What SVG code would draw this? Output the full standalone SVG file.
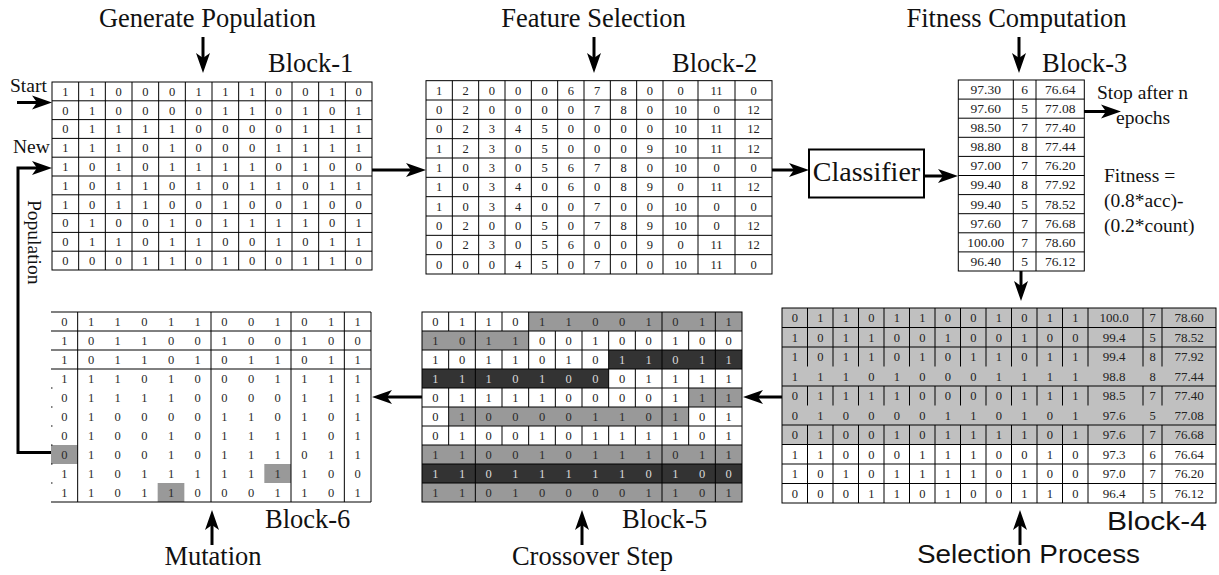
<svg xmlns="http://www.w3.org/2000/svg" width="1219" height="575" viewBox="0 0 1219 575">
  <defs>
    <marker id="ah" viewBox="-9 -8 22 16" refX="0" refY="0" markerWidth="22" markerHeight="16" orient="auto" markerUnits="userSpaceOnUse">
      <path d="M12,0 L-8,-7 L-3,0 L-8,7 Z" fill="#000"/>
    </marker>
  </defs>
  <style>
    .grid { fill: none; stroke: #000; stroke-width: 1; }
    .t { font-family: "Liberation Serif", serif; font-size: 12.5px; text-anchor: middle; fill: #222; }
    .s { font-size: 13.5px; }
    .n { font-size: 13px; }
    .tg { fill: #2a2a2a; }
    .td { fill: #d8d8d8; }
    .lbl { font-family: "Liberation Serif", serif; font-size: 26.5px; fill: #111; }
    .sans { font-family: "Liberation Sans", sans-serif; }
    .note { font-family: "Liberation Serif", serif; font-size: 19.5px; fill: #111; }
    .arr { fill: none; stroke: #000; stroke-width: 3; marker-end: url(#ah); }
    .lite { fill: #999; }
    .dark { fill: #333; }
    .pale { fill: #c0c0c0; }
  </style>

  <!-- step captions -->
  <g id="captions">
    <text class="lbl" x="207.5" y="27" text-anchor="middle">Generate Population</text>
    <text class="lbl" x="593.5" y="27" text-anchor="middle">Feature Selection</text>
    <text class="lbl" x="1016.5" y="27" text-anchor="middle">Fitness Computation</text>
    <text class="lbl" x="213" y="565" text-anchor="middle">Mutation</text>
    <text class="lbl" x="592.5" y="565" text-anchor="middle">Crossover Step</text>
    <text class="lbl sans" x="917" y="563" textLength="223" lengthAdjust="spacingAndGlyphs">Selection Process</text>
    <text class="note" x="10" y="91.5">Start</text>
    <text class="note" x="13" y="153">New</text>
    <text class="note" transform="translate(28,200) rotate(90)">Population</text>
    <text class="note" x="1097" y="99">Stop after n</text>
    <text class="note" x="1116" y="124">epochs</text>
    <text class="note" x="1104" y="181.5">Fitness =</text>
    <text class="note" x="1104" y="206.5">(0.8*acc)-</text>
    <text class="note" x="1104" y="231.5">(0.2*count)</text>
  </g>

  <!-- Block-1: initial binary population -->
  <g id="block1">
    <text class="lbl" x="268" y="72">Block-1</text>
    <rect class="grid" x="52" y="82" width="320" height="188"/>
    <path class="grid" d="M52,100.8H372M52,119.6H372M52,138.4H372M52,157.2H372M52,176H372M52,194.8H372M52,213.6H372M52,232.4H372M52,251.2H372
      M78.67,82V270M105.33,82V270M132,82V270M158.67,82V270M185.33,82V270M212,82V270M238.67,82V270M265.33,82V270M292,82V270M318.67,82V270M345.33,82V270"/>
    <g class="t">
      <text x="65.33 92 118.67 145.33 172 198.67 225.33 252 278.67 305.33 332 358.67" y="95.7">110001110010</text>
      <text x="65.33 92 118.67 145.33 172 198.67 225.33 252 278.67 305.33 332 358.67" y="114.5">010000110101</text>
      <text x="65.33 92 118.67 145.33 172 198.67 225.33 252 278.67 305.33 332 358.67" y="133.3">011110000111</text>
      <text x="65.33 92 118.67 145.33 172 198.67 225.33 252 278.67 305.33 332 358.67" y="152.1">111010001111</text>
      <text x="65.33 92 118.67 145.33 172 198.67 225.33 252 278.67 305.33 332 358.67" y="170.9">101011110100</text>
      <text x="65.33 92 118.67 145.33 172 198.67 225.33 252 278.67 305.33 332 358.67" y="189.7">101101011011</text>
      <text x="65.33 92 118.67 145.33 172 198.67 225.33 252 278.67 305.33 332 358.67" y="208.5">101100100100</text>
      <text x="65.33 92 118.67 145.33 172 198.67 225.33 252 278.67 305.33 332 358.67" y="227.3">010010111101</text>
      <text x="65.33 92 118.67 145.33 172 198.67 225.33 252 278.67 305.33 332 358.67" y="246.1">011011001011</text>
      <text x="65.33 92 118.67 145.33 172 198.67 225.33 252 278.67 305.33 332 358.67" y="264.9">000110100110</text>
    </g>
  </g>

  <!-- Block-2: selected feature indices -->
  <g id="block2">
    <text class="lbl" x="672" y="72">Block-2</text>
    <rect class="grid" x="426" y="80.67" width="346" height="193.33"/>
    <path class="grid" d="M426,100H772M426,119.33H772M426,138.67H772M426,158H772M426,177.33H772M426,196.67H772M426,216H772M426,235.33H772M426,254.67H772
      M452.33,80.67V274M478.67,80.67V274M505,80.67V274M531.33,80.67V274M557.67,80.67V274M584,80.67V274M610.33,80.67V274M636.67,80.67V274M663,80.67V274M698,80.67V274M735,80.67V274"/>
    <g class="t">
      <text x="439.17 465.5 491.83 518.17 544.5 570.83 597.17 623.5 649.83" y="94.6">120006780<tspan x="680.5">0</tspan><tspan x="716.5">11</tspan><tspan x="753.5">0</tspan></text>
      <text x="439.17 465.5 491.83 518.17 544.5 570.83 597.17 623.5 649.83" y="113.97">020000780<tspan x="680.5">10</tspan><tspan x="716.5">0</tspan><tspan x="753.5">12</tspan></text>
      <text x="439.17 465.5 491.83 518.17 544.5 570.83 597.17 623.5 649.83" y="133.3">023450000<tspan x="680.5">10</tspan><tspan x="716.5">11</tspan><tspan x="753.5">12</tspan></text>
      <text x="439.17 465.5 491.83 518.17 544.5 570.83 597.17 623.5 649.83" y="152.6">123050009<tspan x="680.5">10</tspan><tspan x="716.5">11</tspan><tspan x="753.5">12</tspan></text>
      <text x="439.17 465.5 491.83 518.17 544.5 570.83 597.17 623.5 649.83" y="171.97">103056780<tspan x="680.5">10</tspan><tspan x="716.5">0</tspan><tspan x="753.5">0</tspan></text>
      <text x="439.17 465.5 491.83 518.17 544.5 570.83 597.17 623.5 649.83" y="191.3">103406089<tspan x="680.5">0</tspan><tspan x="716.5">11</tspan><tspan x="753.5">12</tspan></text>
      <text x="439.17 465.5 491.83 518.17 544.5 570.83 597.17 623.5 649.83" y="210.6">103400700<tspan x="680.5">10</tspan><tspan x="716.5">0</tspan><tspan x="753.5">0</tspan></text>
      <text x="439.17 465.5 491.83 518.17 544.5 570.83 597.17 623.5 649.83" y="229.97">020050789<tspan x="680.5">10</tspan><tspan x="716.5">0</tspan><tspan x="753.5">12</tspan></text>
      <text x="439.17 465.5 491.83 518.17 544.5 570.83 597.17 623.5 649.83" y="249.3">023056009<tspan x="680.5">0</tspan><tspan x="716.5">11</tspan><tspan x="753.5">12</tspan></text>
      <text x="439.17 465.5 491.83 518.17 544.5 570.83 597.17 623.5 649.83" y="268.6">000450700<tspan x="680.5">10</tspan><tspan x="716.5">11</tspan><tspan x="753.5">0</tspan></text>
    </g>
  </g>

  <!-- classifier -->
  <g id="classifier">
    <rect x="809" y="149.5" width="115" height="48" fill="#fff" stroke="#000" stroke-width="2"/>
    <text x="866.5" y="181" text-anchor="middle" font-family="Liberation Serif, serif" font-size="28" fill="#111">Classifier</text>
  </g>

  <!-- Block-3: accuracy, feature count, fitness -->
  <g id="block3">
    <text class="lbl" x="1042" y="72">Block-3</text>
    <rect class="grid" x="958.3" y="80" width="126" height="191"/>
    <path class="grid" d="M958.3,99.1H1084.3M958.3,118.2H1084.3M958.3,137.3H1084.3M958.3,156.4H1084.3M958.3,175.5H1084.3M958.3,194.6H1084.3M958.3,213.7H1084.3M958.3,232.8H1084.3M958.3,251.9H1084.3
      M1013.3,80V271M1036,80V271"/>
    <g class="t s">
      <text y="93.9"><tspan x="985.8">97.30</tspan><tspan x="1024.7">6</tspan><tspan x="1060.2">76.64</tspan></text>
      <text y="113"><tspan x="985.8">97.60</tspan><tspan x="1024.7">5</tspan><tspan x="1060.2">77.08</tspan></text>
      <text y="132.1"><tspan x="985.8">98.50</tspan><tspan x="1024.7">7</tspan><tspan x="1060.2">77.40</tspan></text>
      <text y="151.2"><tspan x="985.8">98.80</tspan><tspan x="1024.7">8</tspan><tspan x="1060.2">77.44</tspan></text>
      <text y="170.3"><tspan x="985.8">97.00</tspan><tspan x="1024.7">7</tspan><tspan x="1060.2">76.20</tspan></text>
      <text y="189.4"><tspan x="985.8">99.40</tspan><tspan x="1024.7">8</tspan><tspan x="1060.2">77.92</tspan></text>
      <text y="208.5"><tspan x="985.8">99.40</tspan><tspan x="1024.7">5</tspan><tspan x="1060.2">78.52</tspan></text>
      <text y="227.6"><tspan x="985.8">97.60</tspan><tspan x="1024.7">7</tspan><tspan x="1060.2">76.68</tspan></text>
      <text y="246.7"><tspan x="985.8">100.00</tspan><tspan x="1024.7">7</tspan><tspan x="1060.2">78.60</tspan></text>
      <text y="265.8"><tspan x="985.8">96.40</tspan><tspan x="1024.7">5</tspan><tspan x="1060.2">76.12</tspan></text>
    </g>
  </g>

  <!-- Block-4: population ranked by fitness, top rows kept -->
  <g id="block4">
    <rect class="pale" x="782" y="308" width="434" height="136.5"/>
    <rect class="grid" x="782" y="308" width="434" height="195"/>
    <path class="grid" d="M782,327.5H1216M782,347H1216M782,386H1216M782,425H1216M782,444.5H1216M782,464H1216M782,483.5H1216
      M807.5,308V366.5M833,308V366.5M858.5,308V366.5M884,308V366.5M909.5,308V366.5M935,308V366.5M960.5,308V366.5M986,308V366.5M1011.5,308V366.5M1037,308V366.5M1062.5,308V366.5M1088,308V366.5M1143,308V366.5M1162,308V366.5
      M807.5,386V405.5M833,386V405.5M858.5,386V405.5M884,386V405.5M909.5,386V405.5M935,386V405.5M960.5,386V405.5M986,386V405.5M1011.5,386V405.5M1037,386V405.5M1062.5,386V405.5M1088,386V405.5M1143,386V405.5M1162,386V405.5
      M807.5,425V503M833,425V503M858.5,425V503M884,425V503M909.5,425V503M935,425V503M960.5,425V503M986,425V503M1011.5,425V503M1037,425V503M1062.5,425V503M1088,425V503M1143,425V503M1162,425V503"/>
    <g class="t">
      <text x="794.75 820.25 845.75 871.25 896.75 922.25 947.75 973.25 998.75 1024.25 1049.75 1075.25" y="322">011011001011<tspan class="n" x="1114">100.0</tspan><tspan x="1152.5">7</tspan><tspan class="n" x="1189">78.60</tspan></text>
      <text x="794.75 820.25 845.75 871.25 896.75 922.25 947.75 973.25 998.75 1024.25 1049.75 1075.25" y="341.5">101100100100<tspan class="n" x="1114">99.4</tspan><tspan x="1152.5">5</tspan><tspan class="n" x="1189">78.52</tspan></text>
      <text x="794.75 820.25 845.75 871.25 896.75 922.25 947.75 973.25 998.75 1024.25 1049.75 1075.25" y="361">101101011011<tspan class="n" x="1114">99.4</tspan><tspan x="1152.5">8</tspan><tspan class="n" x="1189">77.92</tspan></text>
      <text x="794.75 820.25 845.75 871.25 896.75 922.25 947.75 973.25 998.75 1024.25 1049.75 1075.25" y="380.5">111010001111<tspan class="n" x="1114">98.8</tspan><tspan x="1152.5">8</tspan><tspan class="n" x="1189">77.44</tspan></text>
      <text x="794.75 820.25 845.75 871.25 896.75 922.25 947.75 973.25 998.75 1024.25 1049.75 1075.25" y="400">011110000111<tspan class="n" x="1114">98.5</tspan><tspan x="1152.5">7</tspan><tspan class="n" x="1189">77.40</tspan></text>
      <text x="794.75 820.25 845.75 871.25 896.75 922.25 947.75 973.25 998.75 1024.25 1049.75 1075.25" y="419.5">010000110101<tspan class="n" x="1114">97.6</tspan><tspan x="1152.5">5</tspan><tspan class="n" x="1189">77.08</tspan></text>
      <text x="794.75 820.25 845.75 871.25 896.75 922.25 947.75 973.25 998.75 1024.25 1049.75 1075.25" y="439">010010111101<tspan class="n" x="1114">97.6</tspan><tspan x="1152.5">7</tspan><tspan class="n" x="1189">76.68</tspan></text>
      <text x="794.75 820.25 845.75 871.25 896.75 922.25 947.75 973.25 998.75 1024.25 1049.75 1075.25" y="458.5">110001110010<tspan class="n" x="1114">97.3</tspan><tspan x="1152.5">6</tspan><tspan class="n" x="1189">76.64</tspan></text>
      <text x="794.75 820.25 845.75 871.25 896.75 922.25 947.75 973.25 998.75 1024.25 1049.75 1075.25" y="478">101011110100<tspan class="n" x="1114">97.0</tspan><tspan x="1152.5">7</tspan><tspan class="n" x="1189">76.20</tspan></text>
      <text x="794.75 820.25 845.75 871.25 896.75 922.25 947.75 973.25 998.75 1024.25 1049.75 1075.25" y="497.5">000110100110<tspan class="n" x="1114">96.4</tspan><tspan x="1152.5">5</tspan><tspan class="n" x="1189">76.12</tspan></text>
    </g>
    <text class="lbl sans" x="1107" y="530" textLength="100" lengthAdjust="spacingAndGlyphs">Block-4</text>
  </g>

  <!-- Block-5: crossover of parent pairs -->
  <g id="block5">
    <rect class="lite" x="528.67" y="312" width="213.33" height="19"/>
    <rect class="lite" x="422" y="331" width="106.67" height="19"/>
    <rect class="dark" x="608.67" y="350" width="133.33" height="19"/>
    <rect class="dark" x="422" y="369" width="186.67" height="19"/>
    <rect class="lite" x="688.67" y="388" width="53.33" height="19"/>
    <rect class="lite" x="448.67" y="407" width="240" height="19"/>
    <rect class="lite" x="422" y="445" width="320" height="19"/>
    <rect class="dark" x="422" y="464" width="320" height="19"/>
    <rect class="lite" x="422" y="483" width="320" height="19"/>
    <rect class="grid" x="422" y="312" width="320" height="190"/>
    <path class="grid" d="M422,331H742M422,350H742M422,369H742M422,388H742M422,407H742M422,426H742M422,445H742M422,464H742M422,483H742
      M475.33,312V502M662,312V502M715.33,312V502
      M448.67,312v19M502,312v19M528.67,312v19
      M528.67,331v19M555.33,331v19M582,331v19M608.67,331v19M635.33,331v19M688.67,331v19
      M448.67,350v19M502,350v19M528.67,350v19M555.33,350v19M582,350v19M608.67,350v19
      M608.67,369v19M635.33,369v19M688.67,369v19
      M448.67,388v19M502,388v19M528.67,388v19M555.33,388v19M582,388v19M608.67,388v19M635.33,388v19M688.67,388v19
      M448.67,407v19M688.67,407v19
      M448.67,426v19M502,426v19M528.67,426v19M555.33,426v19M582,426v19M608.67,426v19M635.33,426v19M688.67,426v19"/>
    <g class="t">
      <text y="325.8"><tspan x="435.33 462 488.67 515.33">0110</tspan><tspan class="tg" x="542 568.67 595.33 622 648.67 675.33 702 728.67">11001011</tspan></text>
      <text y="344.8"><tspan class="tg" x="435.33 462 488.67 515.33">1011</tspan><tspan x="542 568.67 595.33 622 648.67 675.33 702 728.67">00100100</tspan></text>
      <text y="363.8"><tspan x="435.33 462 488.67 515.33 542 568.67 595.33">1011010</tspan><tspan class="td" x="622 648.67 675.33 702 728.67">11011</tspan></text>
      <text y="382.8"><tspan class="td" x="435.33 462 488.67 515.33 542 568.67 595.33">1110100</tspan><tspan x="622 648.67 675.33 702 728.67">01111</tspan></text>
      <text y="401.8"><tspan x="435.33 462 488.67 515.33 542 568.67 595.33 622 648.67 675.33">0111100001</tspan><tspan class="tg" x="702 728.67">11</tspan></text>
      <text y="420.8"><tspan x="435.33">0</tspan><tspan class="tg" x="462 488.67 515.33 542 568.67 595.33 622 648.67 675.33">100001101</tspan><tspan x="702 728.67">01</tspan></text>
      <text x="435.33 462 488.67 515.33 542 568.67 595.33 622 648.67 675.33 702 728.67" y="439.8">010010111101</text>
      <text class="tg" x="435.33 462 488.67 515.33 542 568.67 595.33 622 648.67 675.33 702 728.67" y="458.8">110010111011</text>
      <text class="td" x="435.33 462 488.67 515.33 542 568.67 595.33 622 648.67 675.33 702 728.67" y="477.8">110111110100</text>
      <text class="tg" x="435.33 462 488.67 515.33 542 568.67 595.33 622 648.67 675.33 702 728.67" y="496.8">110100001101</text>
    </g>
    <text class="lbl" x="622" y="528">Block-5</text>
  </g>

  <!-- Block-6: mutated offspring -->
  <g id="block6">
    <rect class="lite" x="51" y="445" width="26.67" height="19"/>
    <rect class="lite" x="264.33" y="464" width="26.67" height="19"/>
    <rect class="lite" x="157.67" y="483" width="26.67" height="19"/>
    <path class="grid" d="M51,312H371M51,331H371M51,350H371M51,369H371M51,502H371
      M77.67,312V502M211,312V502M291,312V502M344.33,312V502M371,312V502
      M51,388h1.5M51,407h1.5M51,426h1.5M51,445h1.5M51,464h1.5M51,483h1.5"/>
    <g class="t tg">
      <text x="64.33 91 117.67 144.33 171 197.67 224.33 251 277.67 304.33 331 357.67" y="325.8">011011001011</text>
      <text x="64.33 91 117.67 144.33 171 197.67 224.33 251 277.67 304.33 331 357.67" y="344.8">101100100100</text>
      <text x="64.33 91 117.67 144.33 171 197.67 224.33 251 277.67 304.33 331 357.67" y="363.8">101101011011</text>
      <text x="64.33 91 117.67 144.33 171 197.67 224.33 251 277.67 304.33 331 357.67" y="382.8">111010001111</text>
      <text x="64.33 91 117.67 144.33 171 197.67 224.33 251 277.67 304.33 331 357.67" y="401.8">011110000111</text>
      <text x="64.33 91 117.67 144.33 171 197.67 224.33 251 277.67 304.33 331 357.67" y="420.8">010000110101</text>
      <text x="64.33 91 117.67 144.33 171 197.67 224.33 251 277.67 304.33 331 357.67" y="439.8">010010111101</text>
      <text x="64.33 91 117.67 144.33 171 197.67 224.33 251 277.67 304.33 331 357.67" y="458.8">010010111011</text>
      <text x="64.33 91 117.67 144.33 171 197.67 224.33 251 277.67 304.33 331 357.67" y="477.8">110111111100</text>
      <text x="64.33 91 117.67 144.33 171 197.67 224.33 251 277.67 304.33 331 357.67" y="496.8">110110001101</text>
    </g>
    <text class="lbl" x="265" y="528">Block-6</text>
  </g>

  <!-- connectors -->
  <g id="connectors">
    <path class="arr" d="M203,37V61"/>
    <path class="arr" d="M594,37V61"/>
    <path class="arr" d="M1019,37V61"/>
    <path class="arr" d="M17,102.5H40"/>
    <path class="arr" d="M51,452.5H18V168H40"/>
    <path class="arr" d="M372,170H414"/>
    <path class="arr" d="M772,170H797"/>
    <path class="arr" d="M924,176H946"/>
    <path class="arr" d="M1084,111.5H1109"/>
    <path class="arr" d="M1021,271V289"/>
    <path class="arr" d="M782,397H755"/>
    <path class="arr" d="M422,397H384"/>
    <path class="arr" d="M1020,545V522"/>
    <path class="arr" d="M582,545V522"/>
    <path class="arr" d="M212,545V522"/>
  </g>
</svg>
